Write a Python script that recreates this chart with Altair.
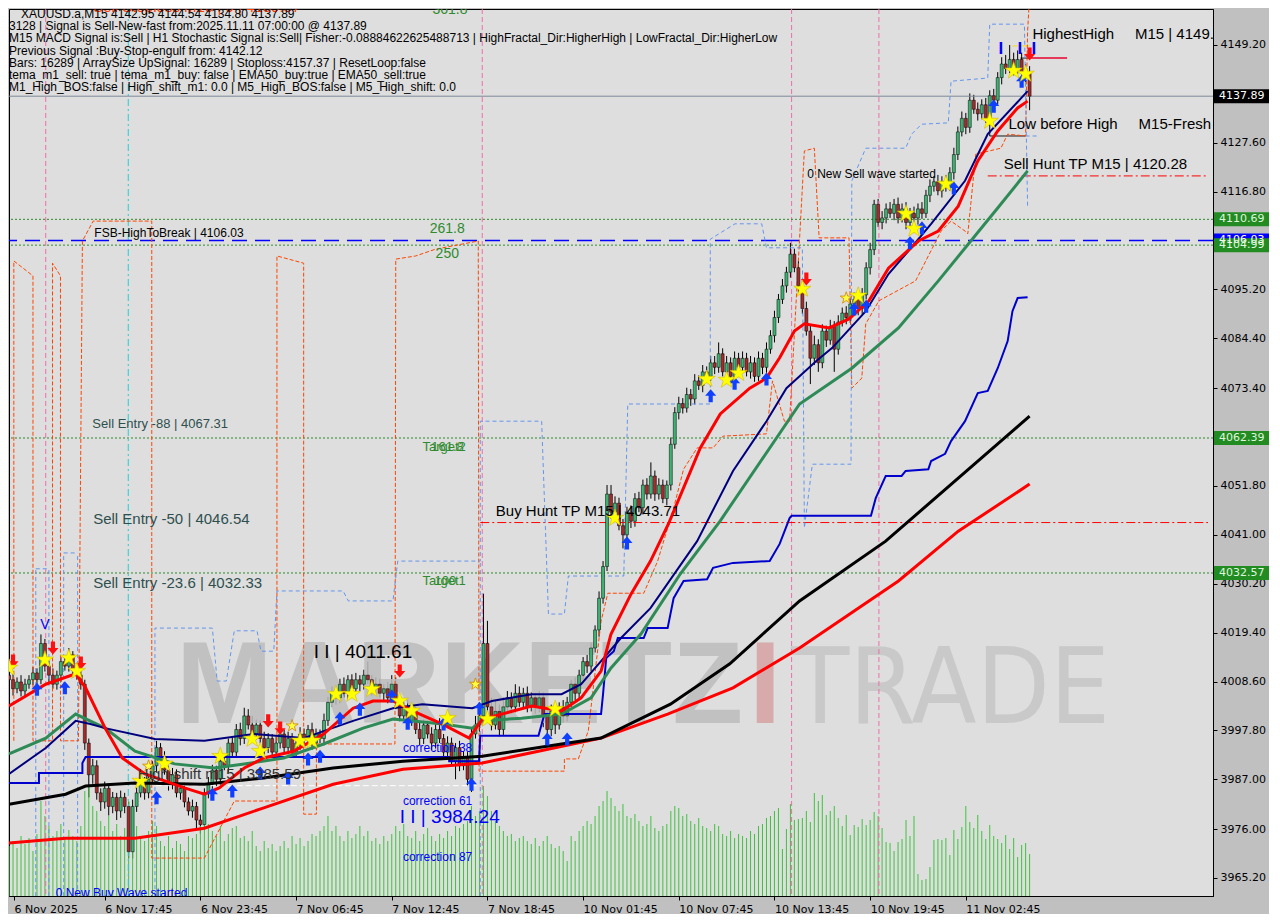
import altair as alt
import pandas as pd

# ----------------------------------------------------------------- data
date_labels = ["6 Nov 2025", "6 Nov 17:45", "6 Nov 23:45", "7 Nov 06:45", "7 Nov 12:45",
               "7 Nov 18:45", "10 Nov 01:45", "10 Nov 07:45", "10 Nov 13:45",
               "10 Nov 19:45", "11 Nov 02:45"]
label_bars = [0, 24, 48, 72, 96, 120, 144, 168, 192, 216, 240]

price_ticks = [4149.20, 4127.60, 4116.80, 4095.20, 4084.40, 4073.40, 4051.80, 4041.00,
               4030.20, 4019.40, 4008.60, 3997.80, 3987.00, 3976.00, 3965.20]

first_open = 4010.0
closes = [
    4009, 4007, 4008.5, 4006.5, 4008, 4009, 4010.5, 4009, 4017, 4012,
    4010, 4008, 4010, 4013, 4012, 4014.5, 4011, 4010, 4008, 3995,
    3988, 3990, 3984, 3982, 3985, 3981, 3983, 3980, 3983, 3981,
    3971, 3981, 3984, 3986, 3984, 3987, 3990, 3994, 3992, 3989,
    3986, 3988, 3984, 3985, 3982, 3980, 3981, 3978, 3977, 3984,
    3986, 3989, 3987, 3991, 3990, 3995, 3993, 3998, 3996, 4001,
    3999, 3997, 3999, 3996, 3994, 3996, 3993, 3995, 3997, 3994,
    3996, 3993, 3995, 3997, 3996, 3998, 3995, 3997, 3996, 4000,
    4004, 4006, 4005, 4008, 4006, 4009, 4007, 4009, 4008, 4010,
    4009, 4007, 4008, 4006, 4007, 4005, 4008, 4004, 4001, 4003,
    4000, 4002, 3998, 3996, 3999, 3997, 3995, 3998, 3996, 3993,
    3995, 3991, 3994, 3990, 3992, 3987, 3997, 3999, 4001, 4017,
    4003, 3999, 4002, 3998, 4003, 4005, 4003, 4006, 4004, 4006,
    4003, 4005, 4003, 4005, 4001, 3998, 4002, 3999, 4003, 4001,
    4004, 4008, 4006, 4010, 4013, 4012, 4016, 4020, 4027, 4034,
    4050, 4046, 4048, 4043, 4041, 4046, 4044, 4049, 4047, 4052,
    4050, 4054, 4050, 4052, 4049, 4052, 4061, 4068, 4070, 4069,
    4072, 4071, 4075, 4074, 4077, 4076, 4079, 4078, 4081, 4077,
    4079, 4076, 4080, 4078, 4080, 4077, 4079, 4076, 4080, 4078,
    4082, 4085, 4089, 4093, 4096, 4099, 4103, 4100, 4096, 4091,
    4086, 4080, 4083, 4079, 4086, 4084, 4087, 4082, 4088, 4090,
    4089, 4092, 4093, 4091, 4094, 4100, 4104, 4114, 4110, 4111,
    4113, 4112, 4114, 4111, 4113, 4110, 4112, 4111, 4113, 4112,
    4116, 4118, 4119, 4117, 4119, 4118, 4121, 4125, 4130, 4133,
    4131, 4137, 4135, 4134, 4136, 4133, 4138, 4137, 4142, 4145,
    4144, 4146, 4144, 4146, 4143, 4142.95, 4137.89,
]
wick_hi = [
    1.5, 1.2, 1.0, 1.5, 1.2, 1.0, 1.3, 1.0, 2.0, 1.0,
    1.2, 1.5, 1.0, 1.0, 1.2, 1.5, 0.8, 1.0, 1.2, 1.0,
    1.0, 1.5, 1.2, 1.0, 1.5, 1.0, 1.2, 1.0, 1.5, 1.0,
    1.0, 1.5, 1.2, 1.0, 1.5, 1.2, 1.0, 1.5, 1.0, 1.2,
    1.0, 1.5, 1.2, 1.0, 1.2, 1.0, 1.5, 1.0, 1.2, 1.0,
    1.5, 1.2, 1.0, 1.5, 1.2, 1.0, 1.5, 1.2, 1.5, 1.8,
    1.5, 2.0, 1.2, 1.0, 1.5, 1.2, 1.0, 1.5, 1.2, 1.0,
    1.5, 1.2, 1.0, 1.5, 1.2, 1.0, 1.5, 1.2, 1.0, 1.5,
    1.2, 1.5, 1.0, 1.2, 1.5, 1.0, 1.2, 1.5, 1.0, 1.2,
    3.0, 1.0, 1.5, 1.2, 1.0, 1.5, 2.0, 1.5, 1.2, 1.0,
    1.5, 1.2, 1.0, 1.5, 1.2, 1.0, 1.5, 1.2, 2.5, 1.0,
    1.5, 1.2, 1.0, 1.5, 1.2, 1.0, 1.5, 2.0, 1.5, 11.0,
    5.0, 2.0, 2.5, 1.5, 2.0, 1.5, 1.2, 2.0, 1.5, 1.2,
    1.5, 1.2, 1.0, 1.5, 1.2, 1.0, 1.5, 1.2, 1.0, 1.5,
    1.2, 1.0, 1.5, 1.2, 1.0, 1.5, 1.2, 1.0, 1.5, 1.2,
    2.0, 2.0, 1.5, 1.2, 1.5, 1.2, 1.5, 1.2, 1.5, 1.2,
    1.5, 3.0, 1.2, 1.5, 1.2, 1.0, 1.5, 1.2, 1.5, 1.2,
    1.5, 1.2, 1.5, 1.2, 1.5, 1.2, 1.5, 1.5, 2.5, 1.2,
    1.5, 1.2, 1.5, 1.2, 1.5, 1.2, 1.5, 1.2, 1.5, 1.2,
    1.5, 1.2, 1.5, 1.2, 1.5, 1.2, 2.5, 1.2, 1.5, 1.2,
    1.5, 1.2, 2.0, 1.2, 1.5, 1.2, 1.5, 1.2, 1.5, 1.2,
    1.5, 1.2, 1.5, 1.2, 1.5, 1.2, 1.5, 1.0, 1.2, 1.5,
    1.2, 1.5, 1.2, 1.5, 1.2, 1.5, 1.2, 1.5, 1.2, 1.5,
    1.2, 1.5, 1.2, 1.5, 1.2, 1.5, 1.2, 1.5, 1.2, 1.5,
    1.2, 1.5, 1.2, 1.5, 1.2, 1.5, 1.2, 1.5, 1.2, 1.5,
    2.0, 3.2, 1.5, 2.0, 1.5, 2.0, 1.59,
]
wick_lo = [
    1.2, 1.5, 1.0, 1.2, 1.5, 1.0, 1.2, 1.5, 1.0, 1.2,
    1.5, 1.0, 1.2, 1.5, 1.0, 1.2, 1.5, 1.0, 1.2, 1.5,
    5.0, 2.0, 1.5, 2.0, 1.5, 2.0, 1.5, 2.0, 1.5, 1.5,
    1.4, 1.5, 1.2, 1.0, 1.5, 1.2, 1.0, 1.5, 1.2, 1.0,
    1.5, 1.2, 1.0, 1.5, 1.2, 1.0, 1.5, 2.0, 2.0, 1.0,
    1.2, 1.0, 1.5, 1.2, 1.0, 1.5, 1.2, 1.0, 1.5, 1.2,
    1.0, 1.5, 1.2, 1.0, 1.5, 1.2, 1.0, 1.5, 1.2, 1.0,
    1.5, 1.2, 1.0, 1.5, 1.2, 1.0, 1.5, 1.2, 1.0, 1.5,
    1.2, 1.0, 1.5, 1.2, 1.0, 1.5, 1.2, 1.0, 1.5, 1.2,
    1.0, 1.5, 1.2, 1.0, 1.5, 1.2, 1.0, 1.5, 1.2, 1.0,
    1.5, 1.2, 1.0, 1.5, 1.2, 1.0, 1.5, 1.2, 1.0, 1.5,
    1.2, 1.0, 4.0, 1.2, 1.0, 1.5, 2.8, 1.0, 1.5, 1.2,
    1.5, 1.2, 1.0, 1.5, 1.2, 1.0, 1.5, 1.2, 1.0, 1.5,
    1.2, 1.0, 1.5, 1.2, 2.5, 1.0, 1.5, 2.0, 1.0, 1.5,
    1.2, 1.0, 1.5, 1.2, 1.0, 1.5, 1.2, 1.0, 1.5, 1.2,
    1.0, 1.5, 1.2, 1.0, 3.0, 1.2, 1.5, 1.2, 1.0, 1.5,
    1.2, 1.0, 1.5, 1.2, 1.0, 1.5, 1.2, 1.0, 1.5, 1.2,
    1.0, 1.5, 1.2, 1.0, 1.5, 1.2, 1.0, 1.5, 1.2, 1.0,
    1.5, 1.2, 1.0, 1.5, 1.2, 1.0, 1.5, 1.2, 1.0, 1.5,
    1.2, 1.0, 1.5, 1.2, 1.0, 1.5, 1.2, 1.0, 1.5, 1.2,
    1.0, 5.7, 1.5, 2.0, 1.2, 1.5, 1.0, 5.0, 1.2, 1.0,
    1.5, 1.2, 1.0, 1.5, 1.2, 1.0, 1.5, 1.2, 1.0, 1.5,
    1.2, 1.0, 1.5, 1.2, 1.0, 1.5, 1.2, 1.0, 1.5, 1.2,
    1.0, 1.5, 1.2, 1.0, 1.5, 1.2, 1.0, 1.5, 1.2, 1.0,
    1.5, 1.2, 1.0, 1.5, 1.2, 1.0, 1.5, 1.2, 1.0, 1.5,
    1.2, 1.0, 1.5, 1.2, 1.0, 2.0, 3.09,
]
volume = [
    50, 55, 48, 60, 52, 58, 45, 62, 95, 80,
    70, 60, 65, 72, 58, 66, 60, 55, 70, 105,
    110, 90, 85, 75, 70, 80, 65, 72, 60, 68,
    95, 85, 70, 60, 55, 65, 75, 70, 55, 50,
    60, 48, 55, 52, 45, 60, 58, 62, 70, 75,
    72, 65, 60, 70, 55, 62, 68, 70, 58, 60,
    55, 65, 50, 45, 55, 48, 52, 45, 50, 55,
    48, 60, 52, 58, 50, 55, 62, 60, 65, 70,
    80, 65, 70, 60, 55, 65, 58, 62, 70, 60,
    65, 55, 58, 52, 60, 55, 62, 70, 65, 72,
    60, 58, 65, 55, 62, 68, 60, 55, 62, 58,
    65, 60, 70, 68, 72, 75, 90, 80, 85, 110,
    100, 85, 75, 70, 65, 60, 62, 55, 58, 60,
    55, 52, 58, 50, 55, 60, 52, 48, 50, 45,
    35, 60, 55, 65, 70, 75, 72, 80, 90, 95,
    105, 98, 90, 85, 92, 80, 78, 82, 75, 70,
    72, 80, 68, 65, 70, 72, 85, 90, 88, 80,
    82, 75, 72, 78, 70, 68, 65, 72, 70, 62,
    60, 65, 58, 62, 60, 58, 65, 62, 70, 72,
    78, 80, 85, 88, 47, 67, 92, 76, 77, 78,
    85, 74, 103, 95, 101, 81, 85, 90, 78, 70,
    81, 61, 71, 69, 77, 71, 76, 84, 80, 68,
    54, 53, 45, 54, 57, 76, 60, 80, 22, 16,
    17, 29, 56, 57, 56, 58, 41, 66, 57, 69,
    90, 74, 68, 81, 65, 57, 71, 60, 57, 53,
    61, 47, 58, 39, 51, 53, 42,
]

# indicator lines: (bar index, price) keypoints
ema_fast = [(0, 4003.2), (9.2, 4008.0), (16.7, 4010.3), (19.2, 4007.2), (24.1, 3998.3),
            (28.4, 3991.7), (34.1, 3988.2), (44.0, 3985.1), (49.0, 3983.7), (52.7, 3985.1),
            (59.0, 3989.5), (63.9, 3991.7), (71.4, 3993.2), (78.9, 3997.0), (86.3, 4002.7),
            (91.3, 4004.3), (96.3, 4004.3), (101.2, 4002.1), (108.7, 3999.2), (115.4, 3996.1),
            (118.7, 4000.3), (123.6, 4001.4), (131.1, 4003.2), (138.6, 4002.1), (143.5, 4005.0),
            (148.5, 4010.9), (151.0, 4019.1), (156.0, 4027.9), (160.9, 4035.2), (165.4, 4043.4),
            (173.4, 4060.2), (178.4, 4067.7), (185.8, 4073.4), (190.0, 4075.6), (193.3, 4080.1),
            (197.0, 4086.0), (199.5, 4087.6), (205.7, 4086.7), (210.7, 4088.7), (215.7, 4092.7),
            (220.6, 4099.9), (228.1, 4105.9), (233.1, 4108.1), (238.1, 4113.6), (243.0, 4123.6),
            (248.0, 4130.2), (253.0, 4135.3), (255.5, 4136.8)]
ema_mid = [(0, 3988.2), (9.2, 3993.9), (16.7, 3999.9), (20.4, 3999.2), (24.1, 3998.3),
           (36.6, 3995.9), (49.0, 3995.5), (61.4, 3997.0), (73.9, 3996.1), (86.3, 3999.9),
           (96.3, 4002.7), (103.7, 4003.6), (116.2, 4002.7), (121.1, 4004.3), (131.1, 4005.8),
           (138.6, 4005.8), (143.5, 4008.0), (148.5, 4013.1), (153.5, 4018.2), (160.9, 4024.8),
           (172.6, 4039.6), (181.6, 4055.1), (190.0, 4066.1), (195.0, 4073.4), (202.5, 4079.4),
           (206.5, 4082.3), (214.9, 4090.4), (220.6, 4098.6), (225.6, 4103.7), (231.3, 4109.7),
           (239.8, 4119.2), (245.5, 4129.5), (255.5, 4139.0)]
ema_slow = [(0, 3992.6), (9.2, 3996.1), (16.7, 4001.4), (24.1, 3998.3), (31.6, 3993.2),
            (41.5, 3990.4), (51.5, 3989.5), (59.0, 3990.4), (68.9, 3991.7), (78.9, 3994.8),
            (88.8, 3998.3), (96.3, 4000.3), (108.7, 3999.2), (116.2, 3998.3), (118.7, 3999.9),
            (128.6, 4000.5), (138.6, 4001.4), (146.0, 4005.0), (151.0, 4011.6), (158.5, 4019.1),
            (168.4, 4032.4), (178.4, 4044.1), (198.3, 4069.9), (211.4, 4077.8), (223.1, 4086.7),
            (233.1, 4097.1), (248.0, 4113.2), (255.5, 4121.4)]
sma_black = [(0, 3981.5), (14.2, 3983.7), (19.2, 3985.5), (31.6, 3986.2), (49.0, 3985.9),
             (63.9, 3987.3), (81.3, 3989.5), (98.8, 3991.0), (118.7, 3992.1), (138.6, 3994.8),
             (148.5, 3996.1), (165.9, 4003.6), (180.8, 4012.5), (198.3, 4026.4), (219.9, 4039.6),
             (248.0, 4061.1), (256.0, 4067.2)]
sma_red = [(0, 3972.9), (14.2, 3974.0), (31.6, 3974.0), (49.0, 3976.2), (63.9, 3980.7),
           (81.3, 3985.9), (98.8, 3989.2), (118.7, 3990.6), (148.5, 3996.1), (165.2, 4001.4),
           (181.6, 4007.2), (198.3, 4016.0), (223.1, 4030.8), (238.1, 4041.8), (256.0, 4052.2)]
step_blue = [(0, 3986.2), (7.5, 3986.2), (7.5, 3988.4), (18.4, 3988.4), (18.4, 3990.6),
             (19.2, 3991.9), (110.4, 3991.9), (110.4, 3991.0), (117.9, 3991.0), (118.2, 3996.6),
             (132.8, 3996.6), (134.3, 4001.4), (148.5, 4001.4), (149.0, 4005.8), (149.8, 4013.8),
             (151.7, 4015.3), (152.7, 4018.2), (159.2, 4018.2), (160.2, 4020.4), (165.2, 4020.4),
             (166.7, 4027.0), (169.2, 4030.8), (175.1, 4031.2), (176.6, 4033.7), (181.6, 4034.8),
             (190.8, 4035.2), (193.3, 4039.0), (195.8, 4044.7), (196.3, 4045.2), (216.2, 4045.2),
             (217.4, 4049.1), (219.9, 4054.0), (223.9, 4054.0), (224.9, 4055.1), (230.6, 4055.5),
             (231.3, 4057.3), (234.8, 4058.9), (236.3, 4061.7), (239.8, 4066.1), (243.0, 4072.3),
             (245.5, 4072.8), (248.0, 4077.8), (250.5, 4083.8), (251.7, 4090.4), (253.0, 4093.3),
             (255.5, 4093.5)]
orange_env = [(1.2, 3995.5), (1.2, 4101.5), (6.0, 4098.2), (6.0, 3995.5), (10.9, 3995.5),
              (10.9, 4101.0), (12.9, 4098.2), (12.9, 3995.5), (17.4, 3995.5), (18.4, 4105.9),
              (21.1, 4110.3), (35.8, 4110.3), (35.8, 3969.6), (49.0, 3969.6), (56.5, 3982.2),
              (67.2, 3982.2), (67.2, 4102.6), (73.9, 4101.0), (73.9, 3979.3), (77.1, 3979.3),
              (77.1, 3994.8), (96.8, 3994.8), (97.0, 4101.9), (102.0, 4102.6), (107.0, 4104.1),
              (117.7, 4105.9), (117.9, 3988.8), (139.3, 3988.8), (139.3, 3991.5), (142.8, 3991.5),
              (145.3, 3997.7), (148.5, 4021.9), (150.2, 4028.1), (159.2, 4028.1), (162.7, 4035.2),
              (166.7, 4046.9), (169.2, 4055.5), (172.6, 4060.2), (176.6, 4060.2), (179.1, 4062.8),
              (190.0, 4063.3), (191.5, 4075.0), (194.5, 4066.1), (195.8, 4066.1), (199.5, 4125.8),
              (202.0, 4126.4), (203.2, 4106.6), (210.7, 4106.6), (211.4, 4073.4), (213.9, 4075.6),
              (214.9, 4087.6), (218.2, 4092.7), (227.4, 4097.1), (233.8, 4108.1), (236.3, 4110.3),
              (239.8, 4108.1), (240.5, 4107.5), (242.5, 4125.1), (248.8, 4126.4), (250.5, 4129.5),
              (255.0, 4129.1), (255.5, 4152.3), (256.0, 4160.0)]
lightblue_env = [(36.6, 3961.2), (36.6, 4020.4), (51.0, 4020.4), (52.2, 4008.7), (54.5, 4008.7),
                 (56.5, 4019.8), (62.2, 4019.8), (63.2, 4015.3), (66.4, 4015.3), (67.2, 4028.6),
                 (83.8, 4028.6), (85.1, 4026.4), (96.3, 4026.4), (97.5, 4035.2), (118.2, 4035.2),
                 (118.2, 4066.1), (133.6, 4066.1), (135.3, 4023.5), (139.3, 4023.5), (140.3, 4031.9),
                 (154.2, 4031.9), (155.2, 4069.9), (175.9, 4069.9), (175.9, 4106.3), (182.1, 4109.7),
                 (188.8, 4109.7), (190.0, 4104.4), (199.0, 4104.4), (199.5, 4042.5), (201.5, 4056.6),
                 (211.2, 4056.6), (211.4, 4119.2), (214.9, 4126.4), (224.9, 4126.4), (226.4, 4129.5),
                 (228.9, 4131.7), (235.6, 4132.0), (236.3, 4141.2), (245.5, 4141.9), (246.0, 4153.8),
                 (254.7, 4153.8), (255.5, 4113.2)]

# signal markers (bar index, price)
stars = [(0, 4011.6), (9, 4013.4), (15, 4013.8), (17, 4010.9), (33, 3986.6), (39, 3990.4),
         (53, 3992.1), (61, 3995.9), (63, 3993.2), (73, 3995.5), (76, 3995.5), (82, 4005.8),
         (86, 4005.8), (91, 4006.9), (98, 4004.3), (101, 4002.1), (110, 4000.5), (120, 4000.3),
         (137, 4002.5), (152, 4044.7), (175, 4075.4), (180, 4075.2), (183, 4076.7), (199, 4095.3),
         (213, 4093.8), (225, 4111.9), (227, 4108.6), (235, 4118.5), (246, 4132.4), (252, 4143.5),
         (255, 4142.8)]
small_stars = [(35, 3989.9), (71, 3998.8), (117, 4008.0), (210, 4093.3)]
up_arrows = [(7, 4006.9), (14, 4007.2), (37, 3982.9), (51, 3983.7), (56, 3984.4), (63, 3988.4),
             (70, 3987.3), (75, 3991.5), (78, 3992.1), (83, 4000.5), (88, 4002.5), (96, 4005.4),
             (100, 3999.4), (109, 3999.2), (116, 3985.9), (118, 4002.7), (135, 3995.9), (140, 3995.9),
             (155, 4039.2), (176, 4071.7), (182, 4074.5), (190, 4075.4), (212, 4090.9), (215, 4091.5),
             (226, 4105.5), (229, 4108.8), (237, 4117.6), (247, 4135.7), (254, 4141.2)]
down_arrows = [(1, 4013.1), (11, 4016.0), (18, 4012.7), (65, 3999.9), (68, 3998.3), (98, 4010.9),
               (200, 4097.5), (256, 4147.2)]

# horizontal levels
level_current = 4137.89
levels_green = [4110.69, 4104.99, 4062.39, 4032.57]
level_fsb = 4106.03
buy_hunt_tp = (118.2, 4043.71)
sell_hunt_tp = (245.5, 4120.28)
high_shift = (32.3, 118.0, 3985.59)
session_bars_pink = [9.2, 118.7, 196.3, 218.2]
session_bars_cyan = [29.9]

NB = "\u00a0"
# chart annotations: text, bar index, price
notes = [
    ("Sell Stoploss M15 | 9 | 4159.37", 21.1, 4157.6, "#ff3c00", 15),
    ("361.8", 106.2, 4156.9, "#2e8b2e", 14),
    ("FSB-HighToBreak | 4106.03", 21.4, 4107.6, "#000000", 12),
    ("261.8", 105.5, 4108.6, "#2e8b2e", 14),
    ("250", 107.0, 4103.0, "#2e8b2e", 14),
    ("Sell Entry -88 | 4067.31", 20.9, 4065.5, "#2f4f4f", 13),
    ("Target2", 103.7, 4060.4, "#2e8b2e", 13),
    ("161.8", 105.9, 4060.4, "#2e8b2e", 13),
    ("Sell Entry -50 | 4046.54", 21.1, 4044.5, "#2f4f4f", 15),
    ("Sell Entry -23.6 | 4032.33", 21.1, 4030.4, "#2f4f4f", 15),
    ("Target1", 103.7, 4030.8, "#2e8b2e", 13),
    ("100", 106.7, 4030.8, "#2e8b2e", 13),
    ("Buy Hunt TP M15 | 4043.71", 122.1, 4046.3, "#000000", 15),
    ("I I | 4011.61", 76.4, 4015.1, "#000000", 19),
    ("High-shift m15 | 3985.59", 32.3, 3988.2, "#333333", 15),
    ("correction 38", 98.8, 3993.9, "#0000ff", 12),
    ("correction 61", 98.8, 3982.2, "#0000ff", 12),
    ("I I | 3984.24", 98.0, 3978.7, "#0000ff", 19),
    ("correction 87", 98.8, 3969.8, "#0000ff", 12),
    ("0 New Buy Wave started", 11.7, 3961.8, "#0000ff", 12),
    ("0 New Sell wave started", 200.2, 4120.7, "#000000", 12),
    ("V", 7.8, 4021.0, "#0000ff", 14),
    ("HighestHigh" + NB * 5 + "M15 | 4149.20", 256.7, 4151.6, "#000000", 15),
    ("Low before High" + NB * 5 + "M15-Fresh", 250.7, 4131.7, "#000000", 15),
    ("Sell Hunt TP M15 | 4120.28", 249.5, 4122.9, "#000000", 15),
]

info_lines = [
    "XAUUSD.a,M15  4142.95 4144.54 4134.80 4137.89",
    "3128 | Signal is Sell-New-fast from:2025.11.11 07:00:00 @ 4137.89",
    "M15 MACD Signal is:Sell | H1 Stochastic Signal is:Sell| Fisher:-0.08884622625488713 | HighFractal_Dir:HigherHigh | LowFractal_Dir:HigherLow",
    "Previous Signal :Buy-Stop-engulf from: 4142.12",
    "Bars: 16289 | ArraySize UpSignal: 16289 | Stoploss:4157.37 | ResetLoop:false",
    "tema_m1_sell: true | tema_m1_buy: false | EMA50_buy:true | EMA50_sell:true",
    "M1_High_BOS:false | High_shift_m1: 0.0 | M5_High_BOS:false | M5_High_shift: 0.0",
]

# ----------------------------------------------------------------- layout
W, H = 1204, 887
X_MIN, X_MAX = 1.24, 300.75
Y_MIN, Y_MAX = 3961.22, 4157.15
FONT = "Liberation Sans"
AXFONT = "DejaVu Sans"
VOL_PX = (Y_MAX - Y_MIN) / H   # one volume unit drawn as one pixel of height

xs = alt.Scale(domain=[X_MIN, X_MAX], nice=False, zero=False)
ys = alt.Scale(domain=[Y_MIN, Y_MAX], nice=False, zero=False)


def X(f="i"):
    return alt.X(f"{f}:Q", scale=xs, title=None)


def Y(f="p"):
    return alt.Y(f"{f}:Q", scale=ys, title=None)


n = len(closes)
opens = [first_open] + closes[:-1]
candles = pd.DataFrame({
    "i": list(range(n)),
    "o": opens,
    "c": closes,
    "h": [max(o, c) + w for o, c, w in zip(opens, closes, wick_hi)],
    "l": [min(o, c) - w for o, c, w in zip(opens, closes, wick_lo)],
    "v": volume,
})
candles["dir"] = ["up" if c >= o else "down" for o, c in zip(candles.o, candles.c)]

label_js = "[" + ",".join(f"'{s}'" for s in date_labels) + "]"
x_axis = alt.Axis(values=[X_MIN] + label_bars[1:], labelExpr=f"{label_js}[round(datum.value/24)]",
                  orient="bottom", title=None, labelFont=AXFONT, labelFontSize=11,
                  labelColor="black", labelAlign="left", labelPadding=3, tickSize=4,
                  tickColor="black", domainColor="black", grid=False, labelOverlap=False,
                  labelFlush=False, labelBound=False)
y_axis = alt.Axis(values=price_ticks, format=".2f", orient="right", title=None,
                  labelFont=AXFONT, labelFontSize=11, labelColor="black", tickSize=4,
                  tickColor="black", domainColor="black", grid=False, labelPadding=3,
                  labelOverlap=False, labelBound=False)

one = pd.DataFrame({"k": [0]})
layers = []

# candles wick layer carries both axes
layers.append(alt.Chart(candles).mark_rule(color="#000000", strokeWidth=1, clip=True)
              .encode(x=alt.X("i:Q", scale=xs, axis=x_axis, title=None),
                      y=alt.Y("l:Q", scale=ys, axis=y_axis, title=None), y2="h:Q"))

# volume bars at the bottom
layers.append(alt.Chart(candles).transform_calculate(vt=f"{Y_MIN} + datum.v * {VOL_PX}", vb=f"{Y_MIN}")
              .mark_rule(color="#3cc43c", strokeWidth=1, clip=True)
              .encode(x=X(), y=Y("vb"), y2="vt:Q"))

# watermark
FONT_NARROW = "Liberation Sans Narrow, DejaVu Sans Condensed, Liberation Sans"
for txt, xpos, col, font, weight, fs in [("MARKETZ", 167, "#bdbdbd", "Liberation Sans", "bold", 116),
                                         ("I", 740, "#d6a3a3", "Liberation Sans", "bold", 116),
                                         ("TRADE", 782, "#c6c6c6", FONT_NARROW, "normal", 106)]:
    layers.append(alt.Chart(one).mark_text(text=txt, font=font, fontWeight=weight, fontSize=fs,
                                           align="left", baseline="alphabetic", color=col,
                                           opacity=0.85)
                  .encode(x=alt.value(xpos), y=alt.value(714)))

# vertical session lines
vdf = pd.DataFrame({"i": session_bars_pink})
layers.append(alt.Chart(vdf).mark_rule(color="#f06ca8", strokeDash=[5, 3], strokeWidth=1, clip=True)
              .encode(x=X()))
vdf2 = pd.DataFrame({"i": session_bars_cyan})
layers.append(alt.Chart(vdf2).mark_rule(color="#20d0d8", strokeDash=[7, 3, 2, 3], strokeWidth=1, clip=True)
              .encode(x=X()))

# horizontal levels
layers.append(alt.Chart(pd.DataFrame({"p": levels_green}))
              .mark_rule(color="#2e8b2e", strokeDash=[2, 2], strokeWidth=1).encode(y=Y()))
layers.append(alt.Chart(pd.DataFrame({"p": [level_fsb]}))
              .mark_rule(color="#0000ff", strokeDash=[15, 8], strokeWidth=1.5).encode(y=Y()))
layers.append(alt.Chart(pd.DataFrame({"p": [level_current]}))
              .mark_rule(color="#7d8a98", strokeWidth=1).encode(y=Y()))
tp = pd.DataFrame({"i": [buy_hunt_tp[0], sell_hunt_tp[0]], "i2": [X_MAX, X_MAX],
                   "p": [buy_hunt_tp[1], sell_hunt_tp[1]]})
layers.append(alt.Chart(tp).mark_rule(color="#ff0000", strokeDash=[9, 3, 2, 3], strokeWidth=1, clip=True)
              .encode(x=X(), x2="i2:Q", y=Y()))
hs = pd.DataFrame({"i": [high_shift[0]], "i2": [high_shift[1]], "p": [high_shift[2]]})
layers.append(alt.Chart(hs).mark_rule(color="#ffffff", strokeDash=[6, 3], strokeWidth=1, clip=True)
              .encode(x=X(), x2="i2:Q", y=Y()))

# small boxes / segments
seg = pd.DataFrame({
    "i": [246.0, 246.0, 255.0, 253.7, 256.0, 251.7, 6.7, 6.7, 10.0, 13.7, 13.7, 17.2, 118.2],
    "i2": [255.0, 246.0, 258.0, 256.0, 265.4, 256.0, 10.0, 6.7, 10.0, 17.2, 13.7, 17.2, 118.2],
    "p": [4129.1, 4129.1, 4129.1, 4146.3, 4146.3, 4149.0, 4033.5, 3961.2, 3961.2, 4037.0, 3961.2, 3961.2, 3961.2],
    "p2": [4129.1, 4131.7, 4129.1, 4146.3, 4146.3, 4149.0, 4033.5, 4033.5, 4033.5, 4037.0, 4037.0, 4037.0, 4035.2],
    "kind": ["k", "k", "lb", "k", "r", "y", "lb", "lb", "lb", "lb", "lb", "lb", "lb"],
})
seg_style = {"k": ("#000000", [1, 0], 1), "lb": ("#6495ed", [4, 3], 1), "r": ("#e8002a", [1, 0], 1.5),
             "y": ("#ffd700", [1, 0], 1)}
for kind, (col, dash, sw) in seg_style.items():
    layers.append(alt.Chart(seg[seg.kind == kind]).mark_rule(color=col, strokeDash=dash, strokeWidth=sw, clip=True)
                  .encode(x=X(), x2="i2:Q", y=Y(), y2="p2:Q"))


def path_df(pts):
    return pd.DataFrame({"k": list(range(len(pts))), "i": [a for a, _ in pts], "p": [b for _, b in pts]})


for pts, col, sw, dash in [(orange_env, "#ff4500", 1, [4, 2]),
                           (lightblue_env, "#6495ed", 1, [4, 3])]:
    layers.append(alt.Chart(path_df(pts)).mark_line(color=col, strokeWidth=sw, strokeDash=dash, clip=True)
                  .encode(x=X(), y=Y(), order="k:Q"))

# candle bodies
layers.append(alt.Chart(candles).mark_bar(size=3, stroke="#000000", strokeWidth=0.5, clip=True)
              .encode(x=X(), y=Y("o"), y2="c:Q",
                      color=alt.Color("dir:N", scale=alt.Scale(domain=["up", "down"],
                                                               range=["#3cb371", "#a52a2a"]),
                                      legend=None)))

# moving averages / channel
for pts, col, sw in [(step_blue, "#0000cd", 2), (sma_red, "#ff0000", 3), (sma_black, "#000000", 3),
                     (ema_slow, "#2e8b57", 3), (ema_mid, "#00007f", 2), (ema_fast, "#ff0000", 3)]:
    layers.append(alt.Chart(path_df(pts)).mark_line(color=col, strokeWidth=sw, clip=True)
                  .encode(x=X(), y=Y(), order="k:Q"))

# markers
STAR = "M0,-1L0.2245,-0.309L0.951,-0.309L0.363,0.118L0.588,0.809L0,0.382L-0.588,0.809L-0.363,0.118L-0.951,-0.309L-0.2245,-0.309Z"
UP = "M0,-1L0.85,0L0.32,0L0.32,1L-0.32,1L-0.32,0L-0.85,0Z"
DOWN = "M0,1L0.85,0L0.32,0L0.32,-1L-0.32,-1L-0.32,0L-0.85,0Z"
layers.append(alt.Chart(path_df(up_arrows)).mark_point(shape=UP, filled=True, color="#1040ff", size=170,
                                                       opacity=1, clip=True).encode(x=X(), y=Y()))
layers.append(alt.Chart(path_df(down_arrows)).mark_point(shape=DOWN, filled=True, color="#ff1010", size=170,
                                                         opacity=1, clip=True).encode(x=X(), y=Y()))
layers.append(alt.Chart(path_df(stars)).mark_point(shape=STAR, filled=True, fill="#ffff00", stroke="#d4b800",
                                                   strokeWidth=0.6, size=330, opacity=1, clip=True)
              .encode(x=X(), y=Y()))
layers.append(alt.Chart(path_df(small_stars)).mark_point(shape=STAR, filled=True, fill="#ffff40", stroke="#d08000",
                                                         strokeWidth=0.8, size=160, opacity=1, clip=True)
              .encode(x=X(), y=Y()))
layers.append(alt.Chart(pd.DataFrame({"i": [248.2], "p": [4148.4]}))
              .mark_text(text="I" + NB * 3 + "I" + NB * 2 + "I", font=FONT, fontSize=17, fontWeight="bold",
                         color="#0000ff", align="left", clip=True).encode(x=X(), y=Y()))

# annotations
ndf = pd.DataFrame(notes, columns=["t", "i", "p", "col", "fs"])
layers.append(alt.Chart(ndf).mark_text(font=FONT, align="left", baseline="middle", clip=True)
              .encode(x=X(), y=Y(), text="t:N", color=alt.Color("col:N", scale=None),
                      size=alt.Size("fs:Q", scale=None)))

# price label boxes on the right axis
half = 7.0 * (Y_MAX - Y_MIN) / H
boxes = pd.DataFrame({
    "p": [level_fsb, levels_green[0], levels_green[1], levels_green[2], levels_green[3], level_current],
    "bg": ["#0000ff", "#228b22", "#228b22", "#228b22", "#228b22", "#000000"],
    "fg": ["#ffffff", "#dff5df", "#dff5df", "#dff5df", "#dff5df", "#ffffff"],
})
boxes["lo"] = boxes.p - half
boxes["hi"] = boxes.p + half
boxes["t"] = boxes.p.map(lambda v: f"{v:.2f}")
layers.append(alt.Chart(boxes).mark_rect()
              .encode(x=alt.value(W + 1), x2=alt.value(W + 56), y=Y("lo"), y2="hi:Q",
                      color=alt.Color("bg:N", scale=None)))
layers.append(alt.Chart(boxes).mark_text(font=AXFONT, fontSize=11, align="left", baseline="middle")
              .encode(x=alt.value(W + 6), y=Y(), text="t:N", color=alt.Color("fg:N", scale=None)))

# info block at the top-left
for k, line in enumerate(info_lines):
    layers.append(alt.Chart(one).mark_text(text=line, font=FONT, fontSize=12, align="left",
                                           baseline="middle", color="#000000")
                  .encode(x=alt.value(12 if k == 0 else 0), y=alt.value(5 + 12.2 * k)))

chart = (alt.layer(*layers)
         .properties(width=W, height=H, background="#c0c0c0",
                     padding={"left": 0, "top": 0, "right": 0, "bottom": 0})
         .configure_view(fill="#dedede", stroke="#000000", strokeWidth=1))

chart.save("out.html", embed_options={"renderer": "svg", "actions": False})
